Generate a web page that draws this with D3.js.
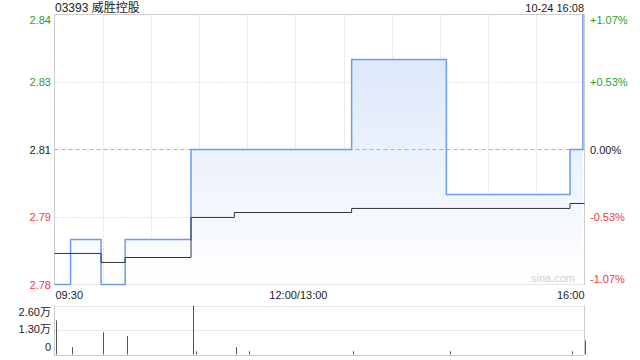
<!DOCTYPE html>
<html>
<head>
<meta charset="utf-8">
<script src="https://cdn.jsdelivr.net/npm/d3@7"></script>
<style>
    html, body { margin: 0; padding: 0; background: #fff; }
    svg { display: block; font-family: "Liberation Sans", Arial, "Noto Sans CJK SC", sans-serif; }
</style>
</head>
<body>
<div id="chart"></div>
<script>
// Kurs (Schritte), Zeitpunkte der Änderungen
var priceTimes  = ['09:30', '09:40', '09:59', '10:14', '10:55', '13:35', '14:34', '15:51', '15:59'];
var priceValues = [2.78, 2.79, 2.78, 2.79, 2.81, 2.83, 2.80, 2.81, 2.84];

// Durchschnittspreis
var avgTimes  = ['09:30', '09:59', '10:14', '10:55', '11:22', '13:35', '15:51', '16:00'];
var avgValues = [2.7869, 2.7849, 2.786, 2.7949, 2.796, 2.7969, 2.798, 2.798];

// Umsatz (Stück)
var volTimes  = ['09:31', '09:41', '10:00', '10:15', '10:56', '10:58', '11:23', '11:31', '13:36', '14:36', '15:52', '16:00'];
var volValues = [18100, 3900, 11800, 9800, 26000, 1700, 3900, 1700, 1700, 1700, 1700, 7500];

var prevClose   = 2.81;
var priceTicks  = [2.84, 2.825, 2.81, 2.795, 2.78];
var priceLabels = ['2.84', '2.83', '2.81', '2.79', '2.78'];
var pctLabels   = ['+1.07%', '+0.53%', '0.00%', '-0.53%', '-1.07%'];
var volTicks    = [26000, 13000, 0];
var volLabels   = ['2.60万', '1.30万', '0'];
var timeTicks   = ['09:30', '12:00', '16:00'];
var timeLabels  = ['09:30', '12:00/13:00', '16:00'];

(function () {
    var width = 640, height = 360;
    var left = 54.5, right = 584.5;
    var top = 14.5, bottom = 284.5;
    var vTop = 305.5, vBottom = 354.5;

    var colorUp = '#1ea51e', colorDown = '#f03a3a', colorFlat = '#222';
    var gridColor = '#cfcfcf';

    // Handelsminuten seit 09:30, Mittagspause herausgerechnet
    function toMin(t) {
        var p = t.split(':');
        var m = (+p[0]) * 60 + (+p[1]);
        return m <= 720 ? m - 570 : m - 780 + 150;
    }

    var svg = d3.select('#chart')
        .append('svg')
        .attr('width', width)
        .attr('height', height);

    var x = d3.scaleLinear().domain([0, 330]).range([left, right]);
    var y = d3.scaleLinear().domain([2.78, 2.84]).range([bottom, top]);
    var yv = d3.scaleLinear().domain([0, 26000]).range([vBottom, vTop]);

    var defs = svg.append('defs');
    var grad = defs.append('linearGradient')
        .attr('id', 'fillGrad')
        .attr('gradientUnits', 'userSpaceOnUse')
        .attr('x1', 0).attr('y1', top)
        .attr('x2', 0).attr('y2', bottom);
    grad.append('stop').attr('offset', '0%').attr('stop-color', '#d6e3fa');
    grad.append('stop').attr('offset', '100%').attr('stop-color', '#ffffff');

    /* Titel */
    svg.append('text')
        .attr('x', 55).attr('y', 12)
        .attr('font-size', 12)
        .attr('fill', '#222')
        .text('03393 威胜控股');

    svg.append('text')
        .attr('x', 584).attr('y', 12)
        .attr('font-size', 11)
        .attr('text-anchor', 'end')
        .attr('fill', '#222')
        .text('10-24 16:08');

    /* Gitter Kurs */
    var gridX = d3.range(30, 330, 30);
    svg.append('g').selectAll('line')
        .data(gridX)
        .join('line')
        .attr('x1', function (d) { return Math.round(x(d)) + 0.5; })
        .attr('x2', function (d) { return Math.round(x(d)) + 0.5; })
        .attr('y1', top).attr('y2', bottom)
        .attr('stroke', gridColor)
        .attr('stroke-dasharray', '1,2');

    svg.append('g').selectAll('line')
        .data([2.825, 2.795])
        .join('line')
        .attr('x1', left).attr('x2', right)
        .attr('y1', function (d) { return Math.round(y(d)) + 0.5; })
        .attr('y2', function (d) { return Math.round(y(d)) + 0.5; })
        .attr('stroke', gridColor)
        .attr('stroke-dasharray', '1,2');

    /* Rahmen */
    svg.append('rect')
        .attr('x', left).attr('y', top)
        .attr('width', right - left).attr('height', bottom - top)
        .attr('fill', 'none')
        .attr('stroke', '#cccccc');

    /* Fläche + Kurslinie */
    var pts = priceTimes.map(function (t, i) { return [toMin(t), priceValues[i]]; });

    var area = d3.area()
        .curve(d3.curveStepAfter)
        .x(function (d) { return x(d[0]); })
        .y0(bottom)
        .y1(function (d) { return y(d[1]); });

    svg.append('path')
        .datum(pts)
        .attr('d', area)
        .attr('fill', 'url(#fillGrad)');

    // Vorschlusslinie
    svg.append('line')
        .attr('x1', left).attr('x2', right)
        .attr('y1', Math.round(y(prevClose)) + 0.5)
        .attr('y2', Math.round(y(prevClose)) + 0.5)
        .attr('stroke', '#f2a070')
        .attr('stroke-dasharray', '4,3');

    var line = d3.line()
        .curve(d3.curveStepAfter)
        .x(function (d) { return x(d[0]); })
        .y(function (d) { return y(d[1]); });

    svg.append('path')
        .datum(pts)
        .attr('d', line)
        .attr('fill', 'none')
        .attr('stroke', '#6a9cef')
        .attr('stroke-width', 1.5);

    var avgPts = avgTimes.map(function (t, i) { return [toMin(t), avgValues[i]]; });
    svg.append('path')
        .datum(avgPts)
        .attr('d', line)
        .attr('fill', 'none')
        .attr('stroke', '#333')
        .attr('stroke-width', 1);

    svg.append('text')
        .attr('x', 553).attr('y', 282)
        .attr('font-size', 11)
        .attr('text-anchor', 'middle')
        .attr('fill', '#cfcfcf')
        .text('sina.com');

    /* Achsenbeschriftung links / rechts */
    function tickColor(v) {
        if (v > prevClose) return colorUp;
        if (v < prevClose) return colorDown;
        return colorFlat;
    }
    var leftY = [20, 82, 150, 217, 285];
    var rightY = [20, 82, 150, 217, 279];

    priceTicks.forEach(function (v, i) {
        svg.append('text')
            .attr('x', 51)
            .attr('y', leftY[i])
            .attr('dy', '0.35em')
            .attr('font-size', 11)
            .attr('text-anchor', 'end')
            .attr('fill', tickColor(v))
            .text(priceLabels[i]);

        svg.append('text')
            .attr('x', 590)
            .attr('y', rightY[i])
            .attr('dy', '0.35em')
            .attr('font-size', 11)
            .attr('fill', tickColor(v))
            .text(pctLabels[i]);
    });

    // Zeitachse
    var anchors = ['start', 'middle', 'end'];
    timeTicks.forEach(function (t, i) {
        var xx = x(toMin(t));
        if (i === 0) xx += 1;
        if (i === 1) xx += 3;
        svg.append('text')
            .attr('x', xx)
            .attr('y', 295)
            .attr('dy', '0.35em')
            .attr('font-size', 11)
            .attr('text-anchor', anchors[i])
            .attr('fill', '#222')
            .text(timeLabels[i]);
    });

    /* Umsatz */
    svg.append('g').selectAll('line')
        .data(volTicks)
        .join('line')
        .attr('x1', left).attr('x2', right)
        .attr('y1', function (d) { return Math.round(yv(d)) + 0.5; })
        .attr('y2', function (d) { return Math.round(yv(d)) + 0.5; })
        .attr('stroke', function (d) { return d === 0 ? '#999' : gridColor; })
        .attr('stroke-dasharray', '1,1');

    svg.append('line')
        .attr('x1', left).attr('x2', left)
        .attr('y1', vTop).attr('y2', vBottom)
        .attr('stroke', '#cccccc');
    svg.append('line')
        .attr('x1', right).attr('x2', right)
        .attr('y1', vTop).attr('y2', vBottom)
        .attr('stroke', '#cccccc');

    svg.append('g').selectAll('line')
        .data(volTimes.map(function (t, i) { return [toMin(t), volValues[i]]; }))
        .join('line')
        .attr('x1', function (d) { return Math.round(x(d[0])) + 0.5; })
        .attr('x2', function (d) { return Math.round(x(d[0])) + 0.5; })
        .attr('y1', vBottom)
        .attr('y2', function (d) { return yv(d[1]); })
        .attr('stroke', '#555')
        .attr('stroke-width', 1);

    var volLabelY = [312, 329, 347];
    volTicks.forEach(function (v, i) {
        svg.append('text')
            .attr('x', 51)
            .attr('y', volLabelY[i])
            .attr('dy', '0.35em')
            .attr('font-size', 11)
            .attr('text-anchor', 'end')
            .attr('fill', '#222')
            .text(volLabels[i]);
    });
})();
</script>
</body>
</html>
